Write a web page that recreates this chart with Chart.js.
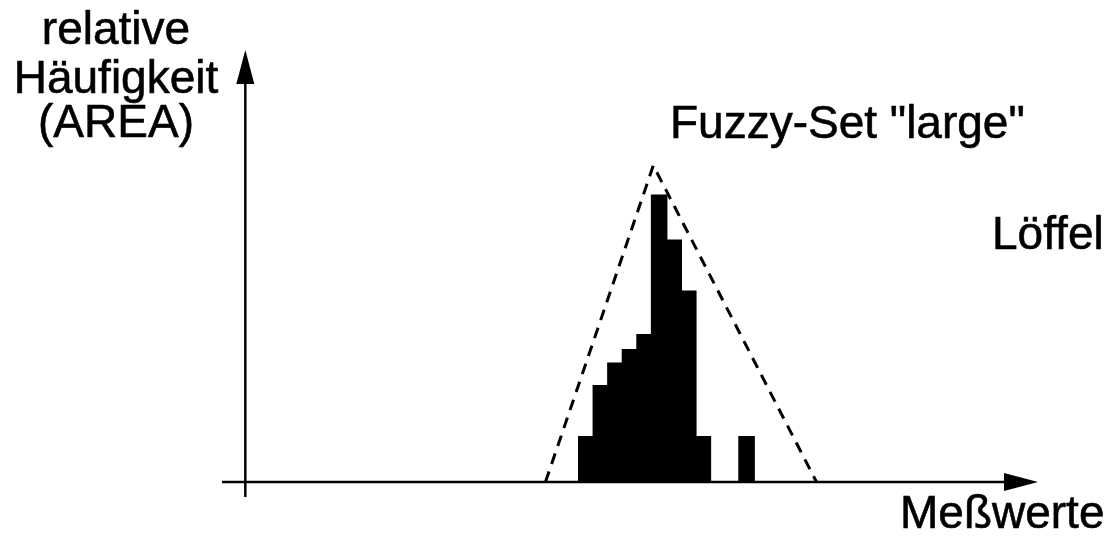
<!DOCTYPE html>
<html>
<head>
<meta charset="utf-8">
<title>Fuzzy-Set large</title>
<script src="https://cdn.jsdelivr.net/npm/chart.js@4.4.1/dist/chart.umd.min.js"></script>
<style>
  html, body { margin: 0; padding: 0; background: #fff; }
  #histChart { display: block; }
</style>
</head>
<body>
<canvas id="histChart" width="1110" height="538"></canvas>
<script>
// histogram bins (Meßwerte) and their relative frequencies
const binCenters = [25, 26, 27, 28, 29, 30, 31, 32, 33, 34, 35, 36];
const frequencies = [3, 6.4, 7.9, 8.8, 9.8, 19.1, 16.1, 12.7, 3, 0, 0, 3];

// triangular fuzzy set "large"
const fuzzyX = [22.2, 29.6, 40.8];
const fuzzyY = [0, 21.1, 0];

// axis ranges
const xMin = 0;
const xMax = 56;
const yMax = 28.8;
const yAxisAt = 1.6;

const FONT = "46px 'Liberation Sans', Arial, sans-serif";

// axes with arrow heads + free text labels
const sketchPlugin = {
  id: "sketch",
  beforeDatasetsDraw(chart) {
    const { ctx, chartArea, scales } = chart;
    const x0 = scales.x.getPixelForValue(yAxisAt);
    const y0 = scales.y.getPixelForValue(0);
    const head = 34;
    const half = 9;

    ctx.save();
    ctx.strokeStyle = "#000";
    ctx.fillStyle = "#000";
    ctx.lineWidth = 2.5;

    // x axis
    ctx.beginPath();
    ctx.moveTo(chartArea.left, y0);
    ctx.lineTo(chartArea.right - head, y0);
    ctx.stroke();
    ctx.beginPath();
    ctx.moveTo(chartArea.right, y0);
    ctx.lineTo(chartArea.right - head, y0 - half);
    ctx.lineTo(chartArea.right - head, y0 + half);
    ctx.closePath();
    ctx.fill();

    // y axis
    ctx.beginPath();
    ctx.moveTo(x0, y0 + 15);
    ctx.lineTo(x0, chartArea.top + head);
    ctx.stroke();
    ctx.beginPath();
    ctx.moveTo(x0, chartArea.top);
    ctx.lineTo(x0 - half, chartArea.top + head);
    ctx.lineTo(x0 + half, chartArea.top + head);
    ctx.closePath();
    ctx.fill();
    ctx.restore();
  },
  afterDraw(chart) {
    const { ctx } = chart;
    ctx.save();
    ctx.fillStyle = "#000";
    ctx.strokeStyle = "#000";
    ctx.lineWidth = 0.6;
    ctx.font = FONT;
    ctx.textBaseline = "alphabetic";

    const labels = [
      ["relative", 116, 44, "center"],
      ["Häufigkeit", 116, 93, "center"],
      ["(AREA)", 116, 137, "center"],
      ['Fuzzy-Set "large"', 670, 138, "left"],
      ["Löffel", 992, 249, "left"],
      ["Meßwerte", 900, 528, "left"],
    ];
    labels.forEach(([text, x, y, align]) => {
      ctx.textAlign = align;
      ctx.fillText(text, x, y);
      ctx.strokeText(text, x, y); // slightly heavier, like the scan
    });
    ctx.restore();
  }
};

const ctx = document.getElementById("histChart").getContext("2d");

new Chart(ctx, {
  type: "bar",
  data: {
    datasets: [
      {
        type: "line",
        label: "Fuzzy-Set large",
        data: fuzzyX.map((x, i) => ({ x, y: fuzzyY[i] })),
        borderColor: "#000",
        borderWidth: 3,
        borderDash: [11, 8],
        pointRadius: 0,
        fill: false,
        tension: 0,
        order: 0,
      },
      {
        label: "Löffel",
        data: binCenters.map((x, i) => ({ x, y: frequencies[i] })),
        backgroundColor: "#000",
        borderWidth: 0,
        inflateAmount: 1,
        barPercentage: 1,
        categoryPercentage: 1,
        order: 1,
      },
    ],
  },
  options: {
    responsive: false,
    animation: false,
    layout: {
      padding: { left: 222, right: 72, top: 50, bottom: 56 },
    },
    plugins: {
      legend: { display: false },
      tooltip: { enabled: false },
    },
    scales: {
      x: {
        type: "linear",
        min: xMin,
        max: xMax,
        offset: false,
        display: false,
      },
      y: {
        min: 0,
        max: yMax,
        display: false,
      },
    },
  },
  plugins: [sketchPlugin],
});
</script>
</body>
</html>
